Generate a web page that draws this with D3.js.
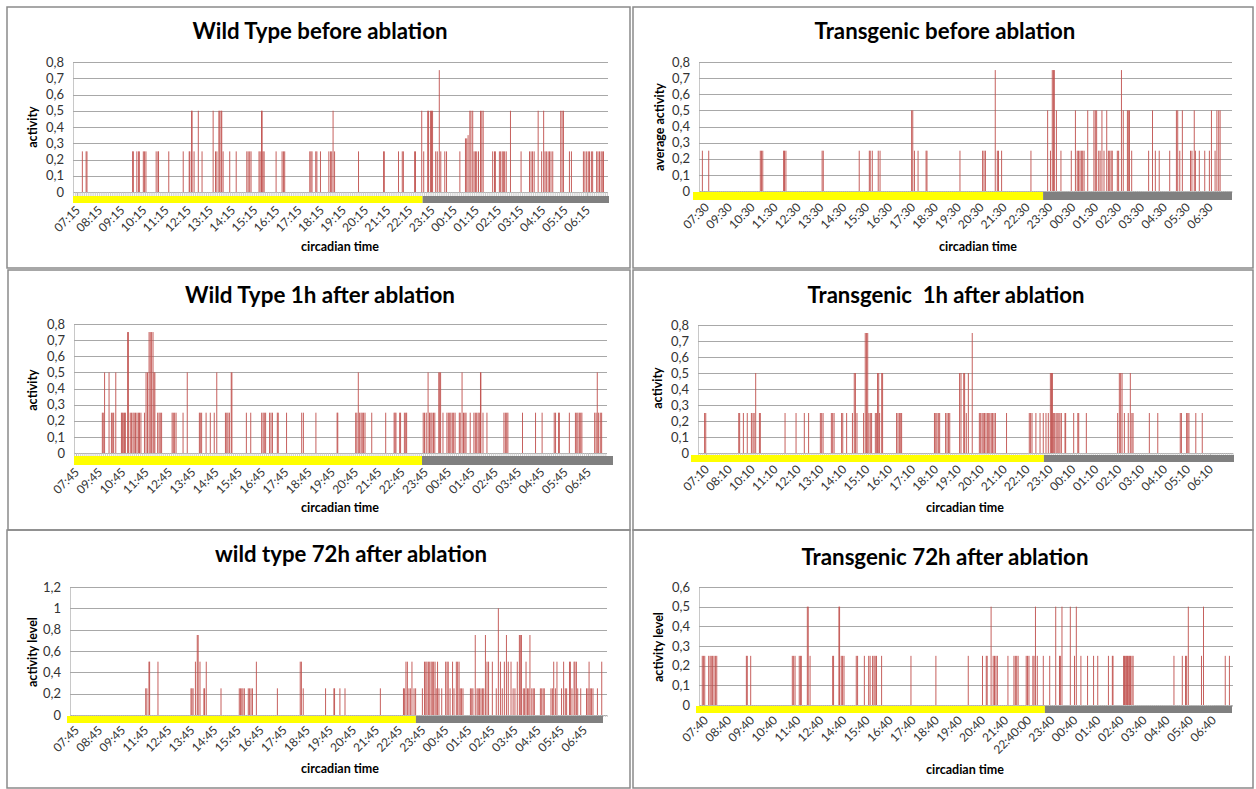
<!DOCTYPE html>
<html>
<head>
<meta charset="utf-8">
<script src="https://cdn.jsdelivr.net/npm/d3@7"></script>
<style>
  body { margin: 0; background: #fff; }
  svg { display: block; }
</style>
</head>
<body>
<svg id="chart" width="1256" height="789"></svg>
<script>
/***** DATA *****/
// bar positions are in hours after the first labelled tick, values are activity

// tick labels (as printed, some hours are skipped in the originals)
var wtBeforeTicks = ["07:15","08:15","09:15","10:15","11:15","12:15","13:15","14:15","15:15","16:15","17:15","18:15",
  "19:15","20:15","21:15","22:15","23:15","00:15","01:15","02:15","03:15","04:15","05:15","06:15"];
var tgBeforeTicks = ["07:30","09:30","10:30","11:30","12:30","13:30","14:30","15:30","16:30","17:30","18:30","19:30",
  "20:30","21:30","22:30","23:30","00:30","01:30","02:30","03:30","04:30","05:30","06:30"];
var wt1hTicks = ["07:45","09:45","10:45","11:45","12:45","13:45","14:45","15:45","16:45","17:45","18:45","19:45",
  "20:45","21:45","22:45","23:45","00:45","01:45","02:45","03:45","04:45","05:45","06:45"];
var tg1hTicks = ["07:10","08:10","10:10","11:10","12:10","13:10","14:10","15:10","16:10","17:10","18:10","19:10",
  "20:10","21:10","22:10","23:10","00:10","01:10","02:10","03:10","04:10","05:10","06:10"];
var wt72hTicks = ["07:45","08:45","09:45","11:45","12:45","13:45","14:45","15:45","16:45","17:45","18:45","19:45",
  "20:45","21:45","22:45","23:45","00:45","01:45","02:45","03:45","04:45","05:45","06:45"];
var tg72hTicks = ["07:40","08:40","09:40","10:40","11:40","12:40","14:40","15:40","16:40","17:40","18:40","19:40",
  "20:40","21:40","22:40:00","23:40","00:40","01:40","02:40","03:40","04:40","05:40","06:40"];

// lights off (start of the grey part of the light bar), same units as bar positions
var lightsOff = [15.59, 14.72, 14.87, 14.75, 14.72, 14.72];

var wtBeforeBars = [
  [0.24,.25],[0.41,.25],[0.45,.25],
  [2.51,.25],[2.54,.25],[2.70,.25],[2.78,.25],[2.81,.25],[2.99,.25],[3.05,.25],[3.11,.25],
  [3.57,.25],[3.65,.25],[3.68,.25],[4.14,.25],[4.79,.25],
  [5.06,.25],[5.09,.25],[5.17,.5],[5.19,.5],[5.28,.25],[5.47,.5],[5.64,.25],
  [6.14,.5],[6.25,.25],[6.31,.25],[6.40,.5],[6.44,.5],[6.50,.5],[6.53,.5],[6.59,.25],[6.89,.25],[7.18,.25],
  [7.66,.25],[7.72,.25],[7.79,.25],[7.85,.25],[8.21,.25],[8.26,.25],[8.32,.5],[8.35,.5],[8.39,.25],[8.44,.25],
  [8.98,.25],[9.25,.25],[9.31,.25],[9.37,.25],
  [10.50,.25],[10.55,.25],[10.60,.25],[10.77,.25],[10.82,.25],[10.98,.25],
  [11.36,.25],[11.44,.25],[11.49,.25],[11.55,.5],[11.62,.25],
  [12.70,.25],[13.83,.25],[13.86,.25],[14.50,.25],[14.67,.25],[14.72,.25],
  [15.23,.25],[15.27,.25],[15.55,.5],[15.64,.25],[15.82,.5],[15.86,.5],[15.95,.5],[15.99,.5],[16.04,.5],
  [16.18,.25],[16.25,.25],[16.34,.75],[16.41,.25],[16.59,.25],[16.67,.25],
  [17.27,.25],[17.52,.33],[17.58,.33],[17.64,.35],[17.72,.5],[17.77,.5],[17.85,.5],
  [17.91,.25],[17.97,.25],[18.03,.25],[18.11,.25],[18.20,.5],[18.26,.5],[18.32,.5],
  [18.75,.25],[18.83,.25],[18.87,.25],
  [19.05,.25],[19.11,.25],[19.18,.25],[19.23,.25],[19.29,.25],[19.36,.25],[19.55,.5],
  [20.03,.25],[20.41,.25],[20.48,.25],[20.55,.25],[20.62,.25],[20.80,.5],[20.96,.25],[21.05,.5],
  [21.11,.25],[21.17,.25],[21.25,.25],[21.31,.25],[21.38,.25],[21.46,.25],
  [21.82,.5],[21.88,.5],[21.94,.5],[22.21,.25],[22.30,.25],
  [22.84,.25],[22.91,.25],[22.99,.25],[23.06,.25],[23.12,.25],[23.20,.25],[23.26,.25],
  [23.44,.25],[23.50,.25],[23.57,.25],[23.64,.25],[23.69,.25],[23.75,.25]
];

var tgBeforeBars = [
  [-0.16,.25],[0.12,.25],[2.37,.25],[2.42,.25],[2.48,.25],[3.39,.25],[3.43,.25],[3.49,.25],
  [5.07,.25],[5.12,.25],[6.69,.25],[7.13,.25],[7.17,.25],[7.26,.25],[7.52,.25],[7.60,.25],
  [8.98,.5],[9.03,.5],[9.10,.25],[9.26,.25],[9.61,.25],[9.65,.25],[11.09,.25],
  [12.08,.25],[12.14,.25],[12.20,.25],[12.63,.75],[12.72,.25],[12.77,.25],[12.91,.25],[14.19,.25],
  [14.92,.5],[15.04,.25],[15.12,.75],[15.17,.75],[15.21,.75],[15.30,.5],[15.50,.25],
  [15.95,.25],[16.13,.5],[16.21,.25],[16.27,.25],[16.33,.25],[16.39,.25],[16.45,.25],[16.51,.25],
  [16.67,.5],[16.94,.5],[17.00,.5],[17.06,.5],[17.15,.25],[17.21,.25],[17.29,.5],[17.38,.25],[17.50,.5],
  [17.57,.25],[17.63,.25],[17.69,.25],[17.74,.25],[17.96,.25],[18.02,.25],[18.14,.75],[18.22,.5],
  [18.40,.5],[18.44,.5],[18.49,.5],[18.59,.25],[19.33,.25],[19.50,.5],[19.62,.25],[19.79,.25],
  [20.25,.25],[20.54,.5],[20.60,.5],[20.69,.25],[20.80,.5],[21.16,.25],[21.22,.25],[21.32,.5],[21.37,.25],
  [21.54,.25],[21.78,.25],[21.98,.25],[22.07,.5],[22.23,.25],[22.31,.5],[22.39,.5],[22.45,.5]
];

var wt1hBars = [
  [1.13,.25],[1.17,.25],[1.23,.5],[1.42,.5],[1.52,.25],[1.58,.25],[1.62,.25],[1.71,.5],
  [1.95,.25],[1.99,.25],[2.03,.25],[2.08,.25],[2.12,.25],[2.22,.75],[2.25,.75],
  [2.33,.25],[2.39,.25],[2.45,.25],[2.50,.25],[2.56,.25],[2.62,.25],[2.68,.25],[2.73,.25],[2.79,.25],
  [2.94,.25],[3.01,.5],[3.07,.5],[3.14,.75],[3.19,.75],[3.25,.75],[3.31,.75],[3.35,.5],[3.39,.5],
  [3.51,.25],[3.57,.25],[3.62,.25],[3.68,.25],[4.13,.25],[4.18,.25],[4.24,.25],[4.30,.25],[4.60,.25],[4.78,.5],
  [5.30,.25],[5.34,.25],[5.40,.25],[5.59,.25],[5.77,.25],[5.94,.25],[6.05,.5],
  [6.42,.25],[6.48,.25],[6.53,.25],[6.59,.25],[6.67,.5],[6.70,.5],[7.32,.25],[7.51,.25],
  [7.98,.25],[8.04,.25],[8.09,.25],[8.15,.25],[8.32,.25],[8.38,.25],[8.44,.25],[8.65,.25],[8.69,.25],[9.05,.25],
  [9.70,.25],[9.77,.25],[10.31,.25],[11.22,.25],[11.25,.25],
  [12.02,.25],[12.07,.25],[12.13,.5],[12.19,.25],[12.25,.25],[12.30,.25],[12.36,.25],[12.42,.25],[12.71,.25],
  [13.31,.25],[13.67,.25],[13.71,.25],[13.75,.25],[13.91,.25],[13.95,.25],[14.11,.25],[14.17,.25],[14.21,.25],
  [14.92,.25],[14.98,.25],[15.05,.25],[15.13,.5],[15.19,.25],[15.25,.25],[15.30,.25],[15.36,.25],[15.42,.25],
  [15.59,.5],[15.63,.5],[15.67,.5],[15.77,.25],
  [15.94,.25],[16.00,.25],[16.06,.25],[16.11,.25],[16.17,.25],[16.23,.25],[16.29,.25],
  [16.47,.25],[16.51,.25],[16.59,.5],[16.65,.25],[16.71,.25],[16.76,.25],[16.94,.25],
  [17.10,.25],[17.16,.25],[17.22,.25],[17.28,.25],[17.33,.25],[17.38,.5],[17.40,.5],[17.49,.25],[17.66,.25],
  [18.39,.25],[18.45,.25],[18.51,.25],[18.56,.25],[19.19,.25],[19.75,.25],[20.03,.25],
  [20.55,.25],[20.61,.25],[20.74,.25],[20.77,.25],[21.20,.25],
  [21.46,.25],[21.52,.25],[21.57,.25],[21.63,.25],[21.69,.25],[21.74,.25],
  [22.29,.25],[22.35,.25],[22.40,.5],[22.46,.25],[22.53,.25],[22.59,.25]
];

var tg1hBars = [
  [-0.06,.25],[-0.01,.25],[1.43,.25],[1.47,.25],[1.63,.25],[1.80,.25],[1.98,.25],[2.05,.25],[2.10,.25],[2.17,.5],[2.33,.25],[2.37,.25],
  [3.45,.25],[3.93,.25],[4.29,.25],[4.48,.25],[4.99,.25],[5.05,.25],[5.11,.25],[5.47,.25],[5.53,.25],[5.59,.25],
  [5.92,.25],[5.97,.25],[6.14,.25],[6.39,.25],[6.47,.5],[6.52,.5],[6.59,.25],[6.88,.25],
  [6.95,.75],[7.01,.75],[7.06,.75],[7.11,.25],[7.17,.25],[7.23,.25],[7.39,.25],[7.45,.25],[7.49,.5],[7.54,.5],[7.58,.25],[7.67,.5],[7.71,.5],
  [8.32,.25],[8.38,.25],[8.44,.25],[8.50,.25],[8.54,.25],
  [9.97,.25],[10.03,.25],[10.08,.25],[10.14,.25],[10.20,.25],[10.46,.25],[10.52,.25],[10.58,.25],[10.64,.25],
  [11.07,.5],[11.13,.5],[11.25,.5],[11.29,.5],[11.36,.25],[11.45,.5],[11.62,.75],
  [11.93,.25],[11.99,.25],[12.05,.25],[12.10,.25],[12.16,.25],[12.22,.25],[12.28,.25],[12.34,.25],[12.39,.25],[12.45,.25],[12.51,.25],[12.57,.25],[12.63,.25],
  [13.12,.25],[14.11,.25],[14.17,.25],[14.23,.25],[14.40,.25],[14.58,.25],[14.72,.25],[14.84,.25],[14.94,.25],
  [15.03,.5],[15.08,.5],[15.12,.5],[15.16,.25],[15.22,.25],[15.28,.25],[15.33,.25],[15.40,.25],[15.45,.25],[15.51,.25],
  [15.67,.25],[15.70,.25],[16.05,.25],[16.23,.25],[16.27,.25],[16.60,.25],
  [17.97,.25],[18.04,.5],[18.10,.5],[18.16,.5],[18.26,.25],[18.43,.25],[18.52,.5],[18.59,.25],[18.64,.25],
  [19.35,.25],[19.72,.25],[20.70,.25],[20.75,.25],[20.98,.25],[21.03,.25],[21.08,.25],[21.38,.25],[21.66,.25]
];

var wt72hBars = [
  [3.02,.25],[3.07,.25],[3.16,.5],[3.19,.5],[3.55,.5],
  [4.98,.25],[5.02,.25],[5.07,.25],[5.17,.5],[5.25,.75],[5.29,.75],[5.37,.5],[5.54,.25],[5.57,.25],[5.64,.5],
  [6.28,.25],[7.07,.25],[7.12,.25],[7.18,.25],[7.23,.25],[7.29,.25],[7.46,.25],[7.52,.25],[7.58,.25],[7.64,.25],[7.81,.5],
  [8.72,.25],[9.71,.5],[9.76,.5],[9.84,.25],[10.81,.25],[11.17,.25],[11.20,.25],[11.43,.25],[11.65,.25],[13.18,.25],
  [14.18,.25],[14.22,.25],[14.29,.5],[14.35,.5],[14.42,.25],[14.48,.25],[14.55,.5],[14.64,.25],[14.71,.25],
  [15.00,.25],[15.09,.5],[15.15,.5],[15.20,.5],[15.26,.5],[15.32,.5],[15.38,.5],[15.43,.5],[15.49,.5],[15.55,.5],[15.60,.25],[15.66,.5],[15.72,.25],
  [15.84,.25],[16.01,.5],[16.07,.5],[16.12,.5],[16.20,.25],[16.31,.5],[16.37,.25],[16.47,.5],[16.53,.5],[16.59,.5],[16.64,.25],[16.70,.25],[16.76,.25],
  [17.08,.25],[17.14,.25],[17.19,.25],[17.29,.75],[17.37,.25],[17.42,.25],[17.48,.25],[17.54,.25],[17.60,.25],[17.66,.25],[17.73,.75],[17.80,.5],[17.87,.5],
  [18.03,.5],[18.20,.25],[18.29,1],[18.38,.5],[18.46,.25],[18.55,.5],[18.64,.75],[18.72,.5],[18.84,.5],[18.93,.25],
  [19.01,.25],[19.11,.5],[19.20,.75],[19.24,.75],[19.29,.75],[19.37,.25],[19.43,.25],[19.49,.5],[19.55,.25],[19.61,.25],[19.66,.75],[19.74,.25],[19.80,.25],[19.85,.25],
  [20.11,.25],[20.17,.25],[20.23,.25],[20.28,.25],[20.57,.25],[20.63,.25],[20.69,.5],[20.76,.25],[20.83,.5],
  [21.03,.25],[21.12,.5],[21.19,.25],[21.25,.25],[21.37,.5],[21.41,.5],[21.48,.25],[21.57,.5],[21.61,.5],[21.67,.5],[21.73,.25],[21.86,.25],
  [22.11,.25],[22.17,.25],[22.22,.5],[22.27,.25],[22.33,.25],[22.39,.25],[22.58,.25],[22.77,.5]
];

var tg72hBars = [
  [-0.12,.25],[-0.07,.25],[-0.01,.25],[0.16,.25],[0.22,.25],[0.27,.25],[0.33,.25],[0.39,.25],[0.45,.25],[0.51,.25],
  [1.79,.25],[1.83,.25],[1.98,.25],[3.78,.25],[3.84,.25],[3.90,.25],[4.08,.25],[4.13,.25],[4.17,.25],[4.43,.5],[4.47,.5],[4.55,.25],
  [5.53,.25],[5.57,.25],[5.80,.5],[5.83,.5],[5.90,.25],[5.96,.25],[6.02,.25],[6.55,.25],[6.61,.25],[6.90,.25],
  [7.09,.25],[7.15,.25],[7.26,.25],[7.32,.25],[7.37,.25],[7.43,.25],[7.65,.25],[8.92,.25],[10.00,.25],[11.40,.25],
  [12.02,.25],[12.18,.25],[12.22,.25],[12.39,.5],[12.48,.25],[12.54,.25],[12.60,.25],[12.66,.25],[13.12,.25],
  [13.38,.25],[13.44,.25],[13.50,.25],[13.56,.25],[13.91,.25],[13.97,.25],[14.03,.25],[14.20,.25],[14.25,.25],[14.31,.5],[14.39,.25],[14.65,.25],
  [14.93,.25],[15.19,.5],[15.35,.25],[15.39,.25],[15.46,.5],[15.82,.5],[16.00,.25],[16.08,.5],[16.28,.25],[16.57,.25],[16.83,.25],[17.01,.25],
  [17.47,.25],[17.64,.25],[17.67,.25],[18.13,.25],[18.17,.25],[18.22,.25],[18.26,.25],[18.30,.25],[18.35,.25],[18.39,.25],[18.43,.25],[18.49,.25],[18.54,.25],
  [20.31,.25],[20.67,.25],[20.81,.25],[20.86,.25],[20.93,.5],[21.50,.25],[21.59,.5],[22.53,.25],[22.71,.25]
];

/***** LAYOUT *****/
var panels = [
  {title: "Wild Type before ablation", yTitle: "activity", ticks: wtBeforeTicks, bars: wtBeforeBars, off: lightsOff[0],
   yMax: 0.8, yStep: 0.1, box: [7, 7, 623, 261], titleX: 320, titleY: 39, titleW: 255,
   left: 73, right: 608, top: 62, base: 192, x0: 77, step: 22.17,
   bandL: 73, bandR: 609, bandT: 196, bandH: 7, yTitleX: 33, yTitleY: 127, xTitleX: 340, xTitleY: 251},
  {title: "Transgenic before ablation", yTitle: "average activity", ticks: tgBeforeTicks, bars: tgBeforeBars, off: lightsOff[1],
   yMax: 0.8, yStep: 0.1, box: [633, 7, 620, 261], titleX: 945, titleY: 39, titleW: 261,
   left: 699, right: 1232, top: 62, base: 191, x0: 706, step: 22.9,
   bandL: 693, bandR: 1232, bandT: 192, bandH: 8, yTitleX: 660, yTitleY: 127, xTitleX: 978, xTitleY: 251},
  {title: "Wild Type 1h after ablation", yTitle: "activity", ticks: wt1hTicks, bars: wt1hBars, off: lightsOff[2],
   yMax: 0.8, yStep: 0.1, box: [8, 270, 622, 260], titleX: 320, titleY: 303, titleW: 270,
   left: 74, right: 607, top: 324, base: 453, x0: 76, step: 23.27,
   bandL: 74, bandR: 613, bandT: 456, bandH: 9, yTitleX: 33, yTitleY: 390, xTitleX: 340, xTitleY: 512},
  {title: "Transgenic  1h after ablation", yTitle: "activity", ticks: tg1hTicks, bars: tg1hBars, off: lightsOff[3],
   yMax: 0.8, yStep: 0.1, box: [633, 270, 620, 260], titleX: 946, titleY: 303, titleW: 277,
   left: 698, right: 1233, top: 325, base: 453, x0: 706, step: 22.91,
   bandL: 691, bandR: 1234, bandT: 455, bandH: 7, yTitleX: 658, yTitleY: 388, xTitleX: 965, xTitleY: 512},
  {title: "wild type 72h after ablation", yTitle: "activity level", ticks: wt72hTicks, bars: wt72hBars, off: lightsOff[4],
   yMax: 1.2, yStep: 0.2, box: [7, 530, 623, 258], titleX: 351, titleY: 562, titleW: 272,
   left: 70, right: 607, top: 587, base: 715, x0: 76, step: 23.09,
   bandL: 67, bandR: 603, bandT: 716, bandH: 7, yTitleX: 33, yTitleY: 652, xTitleX: 340, xTitleY: 773},
  {title: "Transgenic 72h after ablation", yTitle: "activity level", ticks: tg72hTicks, bars: tg72hBars, off: lightsOff[5],
   yMax: 0.6, yStep: 0.1, box: [633, 530, 620, 258], titleX: 945, titleY: 565, titleW: 287,
   left: 699, right: 1233, top: 587, base: 705, x0: 705, step: 23.09,
   bandL: 696, bandR: 1232, bandT: 706, bandH: 7, yTitleX: 659, yTitleY: 647, xTitleX: 965, xTitleY: 774}
];

var svg = d3.select("#chart");

// "0,8" style labels
var fmtComma = function(v) {
  return Math.abs(v - Math.round(v)) < 1e-9 ? String(Math.round(v)) : v.toFixed(1).replace(".", ",");
};

panels.forEach(function(p) {
  var g = svg.append("g");

  //panel frame
  g.append("rect")
    .attr("x", p.box[0]).attr("y", p.box[1])
    .attr("width", p.box[2]).attr("height", p.box[3])
    .attr("fill", "none")
    .attr("stroke", "#8a8a8a")
    .attr("stroke-width", 1.5)
  ;

  //scales
  var n = p.ticks.length;
  var x = d3.scaleLinear()
    .domain([0, n - 1])
    .range([p.x0, p.x0 + (n - 1) * p.step])
  ;
  var y = d3.scaleLinear()
    .domain([0, p.yMax])
    .range([p.base, p.top])
  ;

  //gridlines + y labels
  var yTicks = d3.range(0, p.yMax + p.yStep / 2, p.yStep);
  var yAxis = d3.axisLeft(y)
    .tickValues(yTicks)
    .tickSizeInner(-(p.right - p.left))
    .tickSizeOuter(0)
    .tickPadding(9)
    .tickFormat(fmtComma)
  ;
  var ya = g.append("g")
    .attr("transform", "translate(" + p.left + ",0)")
    .call(yAxis)
  ;
  ya.select(".domain").attr("stroke", "#c8c8c8");
  ya.selectAll(".tick line").attr("stroke", "#a8a8a8").attr("shape-rendering", "crispEdges");
  ya.selectAll(".tick text")
    .attr("fill", "#333")
    .style("font-family", "Lato, 'Open Sans', sans-serif")
    .style("font-size", "13px")
  ;

  //small category ticks along the baseline
  var d0 = x.invert(p.left), d1 = x.invert(p.right);
  var comb = g.append("g")
    .attr("transform", "translate(0," + p.base + ")")
    .call(d3.axisBottom(x).tickValues(d3.range(d0, d1, 1 / 12)).tickSize(Math.max(2, p.bandT - p.base)).tickFormat(""))
  ;
  comb.select(".domain").attr("stroke", "#b0b0b0");
  comb.selectAll(".tick line").attr("stroke", "#c4c4c4").attr("stroke-width", 0.8);

  //light / dark bar
  g.append("rect")
    .attr("x", p.bandL).attr("y", p.bandT)
    .attr("width", x(p.off) - p.bandL).attr("height", p.bandH)
    .attr("fill", "#ffff00")
  ;
  g.append("rect")
    .attr("x", x(p.off)).attr("y", p.bandT)
    .attr("width", p.bandR - x(p.off)).attr("height", p.bandH)
    .attr("fill", "#808080")
  ;

  //activity bars
  g.append("g")
    .selectAll("rect")
    .data(p.bars)
    .enter()
    .append("rect")
    .attr("x", function(d) { return x(d[0]) - 0.45; })
    .attr("y", function(d) { return y(d[1]); })
    .attr("width", 0.9)
    .attr("height", function(d) { return p.base - y(d[1]); })
    .attr("fill", "#c0504d")
  ;

  //rotated x labels
  var labY = p.bandT + p.bandH + 5;
  g.append("g")
    .selectAll("text")
    .data(p.ticks)
    .enter()
    .append("text")
    .attr("transform", function(d, i) { return "translate(" + (x(i) + 1) + "," + labY + ") rotate(-45)"; })
    .attr("text-anchor", "end")
    .attr("dy", "0.35em")
    .attr("fill", "#333")
    .style("font-family", "Lato, 'Open Sans', sans-serif")
    .style("font-size", "12px")
    .text(function(d) { return d; })
  ;

  //title, fitted to the printed width
  var t = g.append("text")
    .attr("x", p.titleX).attr("y", p.titleY)
    .attr("text-anchor", "middle")
    .style("font-family", "Lato, sans-serif")
    .style("font-weight", "bold")
    .style("font-size", "20px")
    .style("white-space", "pre")
    .attr("fill", "#000")
    .text(p.title)
  ;
  var w = t.node().getComputedTextLength();
  t.style("font-size", (20 * p.titleW / w).toFixed(2) + "px");

  //axis titles
  g.append("text")
    .attr("transform", "translate(" + (p.yTitleX + 4) + "," + p.yTitleY + ") rotate(-90)")
    .attr("text-anchor", "middle")
    .style("font-family", "Lato, sans-serif")
    .style("font-weight", "bold")
    .style("font-size", "12.5px")
    .attr("fill", "#000")
    .text(p.yTitle)
  ;
  g.append("text")
    .attr("x", p.xTitleX).attr("y", p.xTitleY)
    .attr("text-anchor", "middle")
    .style("font-family", "Lato, sans-serif")
    .style("font-weight", "bold")
    .style("font-size", "12.5px")
    .attr("fill", "#000")
    .text("circadian time")
  ;
});
</script>
</body>
</html>
